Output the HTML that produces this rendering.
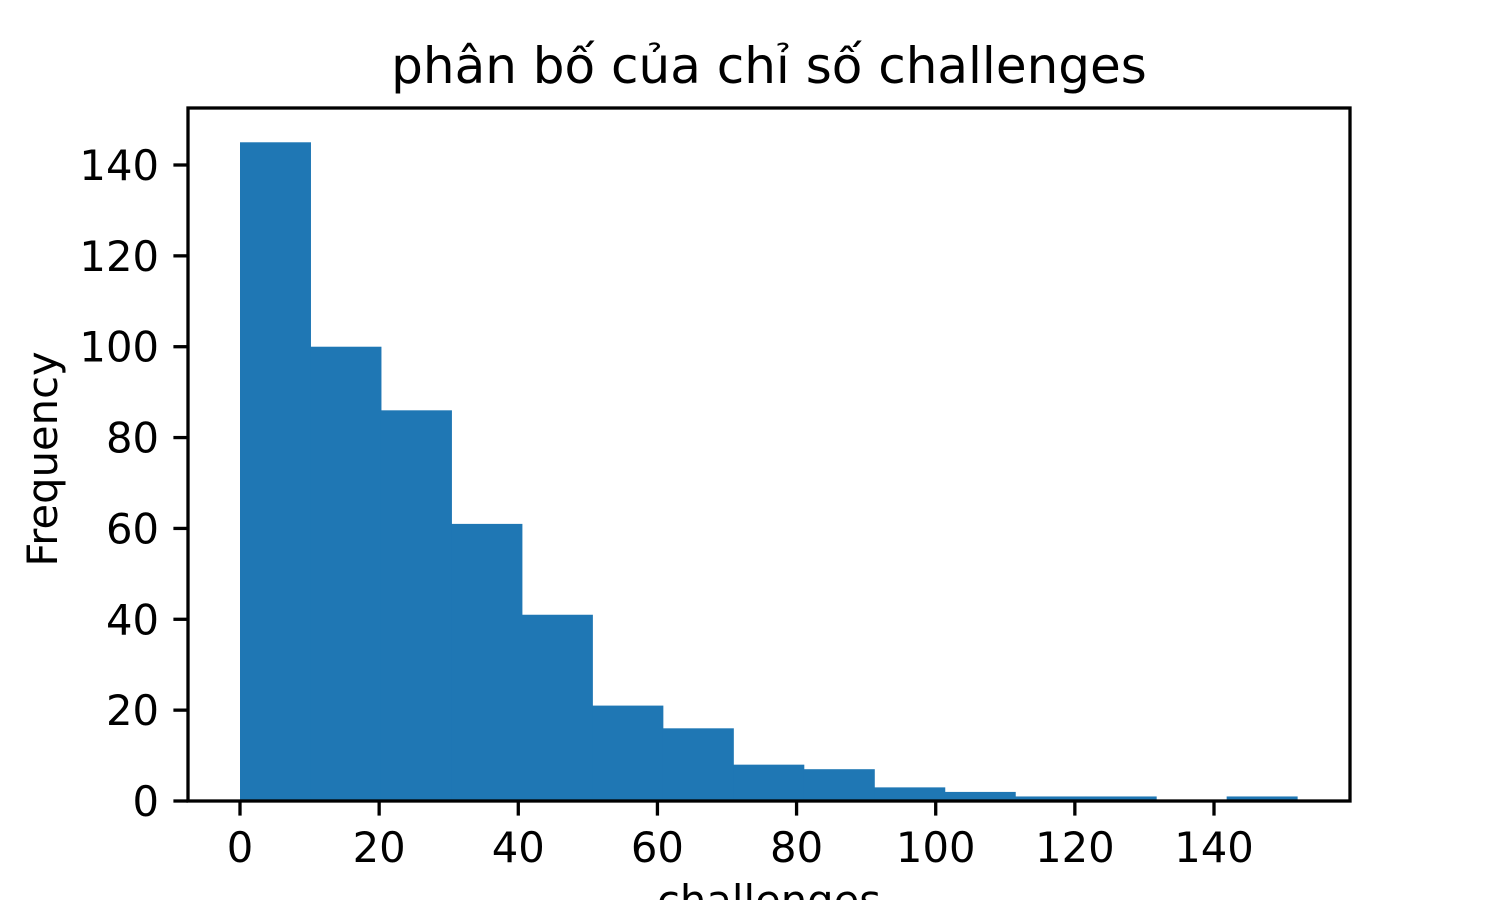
<!DOCTYPE html>
<html><head><meta charset="utf-8"><style>
html,body{margin:0;padding:0;background:#fff;width:1500px;height:900px;overflow:hidden}
text{font-family:"DejaVu Sans","Liberation Sans",sans-serif;fill:#000}
</style></head><body>
<svg id="chart" width="1500" height="900" xmlns="http://www.w3.org/2000/svg">
<text x="769" y="83" font-size="50" text-anchor="middle">phân bố của chỉ số challenges</text>
<g id="bars"></g>
<g id="xticks"></g>
<g id="yticks"></g>
<rect x="188" y="108" width="1162" height="693" fill="none" stroke="#000" stroke-width="3.3"/>
<text x="769" y="915" font-size="41.7" text-anchor="middle">challenges</text>
<text transform="translate(57,459) rotate(-90)" font-size="41.7" text-anchor="middle">Frequency</text>
</svg>
<script>
const binStart = 0;
const binWidth = 10.13;
const counts = [145, 100, 86, 61, 41, 21, 16, 8, 7, 3, 2, 1, 1, 0, 1];
const xTickValues = [0, 20, 40, 60, 80, 100, 120, 140];
const yTickValues = [0, 20, 40, 60, 80, 100, 120, 140];
const NS = "http://www.w3.org/2000/svg";
const xs = v => 240 + v * (1214 - 240) / 140;
const ys = v => 801 - v * (801 - 165) / 140;
const bars = document.getElementById('bars');
counts.forEach((c, i) => {
  if (c <= 0) return;
  const r = document.createElementNS(NS, 'rect');
  const x0 = xs(binStart + i * binWidth), x1 = xs(binStart + (i + 1) * binWidth);
  r.setAttribute('x', x0); r.setAttribute('width', x1 - x0 + 0.5);
  r.setAttribute('y', ys(c)); r.setAttribute('height', ys(0) - ys(c));
  r.setAttribute('fill', '#1f77b4');
  
  
  bars.appendChild(r);
});
const xg = document.getElementById('xticks');
xTickValues.forEach(v => {
  const l = document.createElementNS(NS, 'line');
  l.setAttribute('x1', xs(v)); l.setAttribute('x2', xs(v));
  l.setAttribute('y1', 801); l.setAttribute('y2', 815.6);
  l.setAttribute('stroke', '#000'); l.setAttribute('stroke-width', 3.3);
  
  
  xg.appendChild(l);
  const t = document.createElementNS(NS, 'text');
  t.setAttribute('x', xs(v)); t.setAttribute('y', 862);
  t.setAttribute('font-size', 41.7); t.setAttribute('text-anchor', 'middle');
  t.textContent = v;
  
  
  xg.appendChild(t);
});
const yg = document.getElementById('yticks');
yTickValues.forEach(v => {
  const l = document.createElementNS(NS, 'line');
  l.setAttribute('x1', 173.4); l.setAttribute('x2', 188);
  l.setAttribute('y1', ys(v)); l.setAttribute('y2', ys(v));
  l.setAttribute('stroke', '#000'); l.setAttribute('stroke-width', 3.3);
  
  
  yg.appendChild(l);
  const t = document.createElementNS(NS, 'text');
  t.setAttribute('x', 159); t.setAttribute('y', ys(v) + 15);
  t.setAttribute('font-size', 41.7); t.setAttribute('text-anchor', 'end');
  t.textContent = v;
  
  
  yg.appendChild(t);
});
</script>
</body></html>
